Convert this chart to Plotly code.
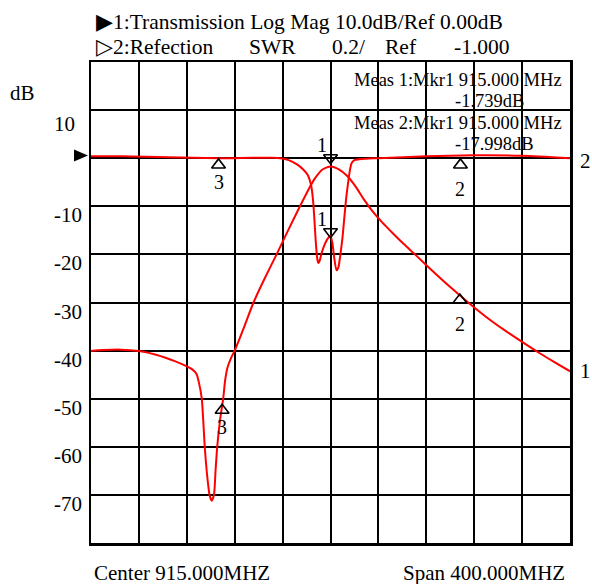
import plotly.graph_objects as go

# ---------------- data ----------------
# Trace 1: Transmission (dB), frequency in MHz
t1_freq = [715, 725, 740, 755, 770, 785, 795, 800, 803, 805, 807.5, 810, 812, 814, 815.8,
           817.7, 819, 820.4, 823, 825.4, 827, 829, 832, 835, 843, 850.7, 860, 870, 880,
           889.5, 896, 902, 908, 915, 922, 929, 936, 943, 950, 958, 967, 976, 986, 1000,
           1015, 1030, 1045, 1060, 1075, 1090, 1102, 1115]
t1_db = [-40.1, -39.9, -39.8, -40.1, -40.9, -42.2, -43.3, -44.0, -44.8, -46.5, -50, -60, -66,
         -70, -71.2, -70, -65, -60, -54, -50, -46.2, -43.5, -41.5, -40, -35, -30, -25, -20,
         -14.8, -10, -6.8, -4.2, -2.4, -1.7, -2.3, -3.7, -5.9, -8.6, -11.0, -13.3, -15.6,
         -17.8, -20.1, -23.4, -26.8, -30.0, -33.0, -35.7, -38.2, -40.6, -42.4, -44.3]

# Trace 2: Reflection (drawn on the same grid)
t2_freq = [715, 740, 780, 822, 850, 866, 873, 880, 887, 892, 896, 899, 900.5, 901.5, 902.6,
           904, 905, 906, 907.5, 910, 913, 915, 916.5, 918, 920, 921.5, 923, 925, 926.5,
           928, 929.5, 931, 932.5, 935, 945, 955, 995, 1035, 1075, 1115]
t2_db = [0.4, 0.4, 0.2, 0.0, 0.1, 0.1, 0.0, -0.4, -1.3, -2.3, -3.5, -5.9, -9, -12.5, -17,
         -21, -21.8, -21.3, -19.8, -18, -16.6, -16.2, -17.5, -20.5, -23.3, -22.8, -20.5,
         -16.5, -12.5, -8.5, -5.5, -2.8, -1.1, -0.4, -0.1, 0.0, 0.4, 0.6, 0.5, 0.0]

# Markers (label, freq MHz, dB at symbol centre, direction)
t1_mk_labels = ["1", "2", "3"]
t1_mk_freq = [915, 1023, 824.5]
t1_mk_db = [0.1, -29.5, -52.4]
t1_mk_dir = ["down", "up", "up"]

t2_mk_labels = ["1", "2", "3"]
t2_mk_freq = [915, 1023.5, 821.5]
t2_mk_db = [-15.3, -1.4, -1.4]
t2_mk_dir = ["down", "up", "up"]

y_tick_vals = [10, -10, -20, -30, -40, -50, -60, -70]
y_tick_text = ["10", "-10", "-20", "-30", "-40", "-50", "-60", "-70"]

center_mhz = 915.0
span_mhz = 400.0
x_start = center_mhz - span_mhz / 2
x_stop = center_mhz + span_mhz / 2
y_bottom, y_top = -80, 20

header1 = "\u25b61:Transmission Log Mag 10.0dB/Ref 0.00dB"
header2_parts = ["\u25b72:Refection", "SWR", "0.2/", "Ref", "-1.000"]
meas_lines = ["Meas 1:Mkr1 915.000 MHz", "-1.739dB", "Meas 2:Mkr1 915.000 MHz", "-17.998dB"]

# ---------------- layout helpers ----------------
W, H = 592, 584
L, R, T, B = 91, 570, 62, 543
FONT = "Liberation Serif, Times New Roman, serif"


def px(x):
    return (x - L) / (R - L)


def py(y):
    return (B - y) / (B - T)


fig = go.Figure()

red = "#ff0000"
fig.add_trace(go.Scatter(x=t1_freq, y=t1_db, mode="lines",
                         line=dict(color=red, width=2, shape="spline", smoothing=0.6),
                         hoverinfo="skip", showlegend=False))
fig.add_trace(go.Scatter(x=t2_freq, y=t2_db, mode="lines",
                         line=dict(color=red, width=2, shape="spline", smoothing=0.6),
                         hoverinfo="skip", showlegend=False))

sym = {"up": "triangle-up-open", "down": "triangle-down-open"}
for freqs, dbs, dirs in [(t1_mk_freq, t1_mk_db, t1_mk_dir), (t2_mk_freq, t2_mk_db, t2_mk_dir)]:
    fig.add_trace(go.Scatter(x=freqs, y=dbs, mode="markers",
                             marker=dict(symbol=[sym[d] for d in dirs], size=12, color="black",
                                         line=dict(color="black", width=1.6)),
                             cliponaxis=False, hoverinfo="skip", showlegend=False))

annotations = []
# marker labels
for labels, freqs, dbs, dirs in [(t1_mk_labels, t1_mk_freq, t1_mk_db, t1_mk_dir),
                                  (t2_mk_labels, t2_mk_freq, t2_mk_db, t2_mk_dir)]:
    for lab, f, d, dr in zip(labels, freqs, dbs, dirs):
        if dr == "down":
            xs, ys = -9, 13
        else:
            xs, ys = 0, (-24 if lab == "2" else -17)
        annotations.append(dict(x=f, y=d, xref="x", yref="y", text=lab, showarrow=False,
                                xshift=xs, yshift=ys, font=dict(family=FONT, size=20, color="black")))

# y tick labels (left aligned)
for v, t in zip(y_tick_vals, y_tick_text):
    annotations.append(dict(x=px(52), y=v, xref="paper", yref="y", text=t, showarrow=False,
                            xanchor="left", yanchor="middle", yshift=(-14 if v > 0 else -9),
                            font=dict(family=FONT, size=21, color="black")))


def txt(x, y, s, size=21, anchor="left"):
    annotations.append(dict(x=px(x), y=py(y), xref="paper", yref="paper", text=s,
                            showarrow=False, xanchor=anchor, yanchor="middle",
                            font=dict(family=FONT, size=size, color="black")))


txt(8, 93, "dB")
txt(94, 22, header1, size=21.5)
for xpos, s in zip([94, 247, 330, 383, 452], header2_parts):
    txt(xpos, 47, s, size=21.5)
for (xpos, ypos), s in zip([(352, 80), (453, 101), (352, 123), (453, 144)], meas_lines):
    txt(xpos, ypos, s, size=18.5)
txt(92, 573, "Center %.3fMHZ" % center_mhz)
txt(567, 573, "Span %.3fMHZ" % span_mhz, anchor="right")
# trace end labels
txt(578, 161, "2")
txt(578, 371, "1")

# reference pointer
shapes = [dict(type="path", xref="paper", yref="paper",
               path="M %f,%f L %f,%f L %f,%f Z" % (px(74), py(149.5), px(74), py(161.5),
                                                   px(88), py(155.5)),
               fillcolor="black", line=dict(color="black", width=0))]

fig.update_layout(
    width=W, height=H,
    margin=dict(l=L, r=W - R, t=T, b=H - B, pad=0),
    paper_bgcolor="white", plot_bgcolor="white",
    xaxis=dict(range=[x_start, x_stop], dtick=40, tick0=x_start, showgrid=True,
               gridcolor="black", gridwidth=2, showticklabels=False, ticks="",
               showline=True, linecolor="black", linewidth=2.5, mirror=True, zeroline=False,
               fixedrange=True),
    yaxis=dict(range=[y_bottom, y_top], dtick=10, tick0=0, showgrid=True,
               gridcolor="black", gridwidth=2, showticklabels=False, ticks="",
               showline=True, linecolor="black", linewidth=2.5, mirror=True, zeroline=False,
               fixedrange=True),
    annotations=annotations, shapes=shapes,
    showlegend=False,
)

# remove the default page margin so the 592x584 figure fills the window exactly
fig.write_html("out.html",
               config={"displayModeBar": False, "staticPlot": True},
               post_script="document.body.style.margin='0px';document.body.style.overflow='hidden';")
